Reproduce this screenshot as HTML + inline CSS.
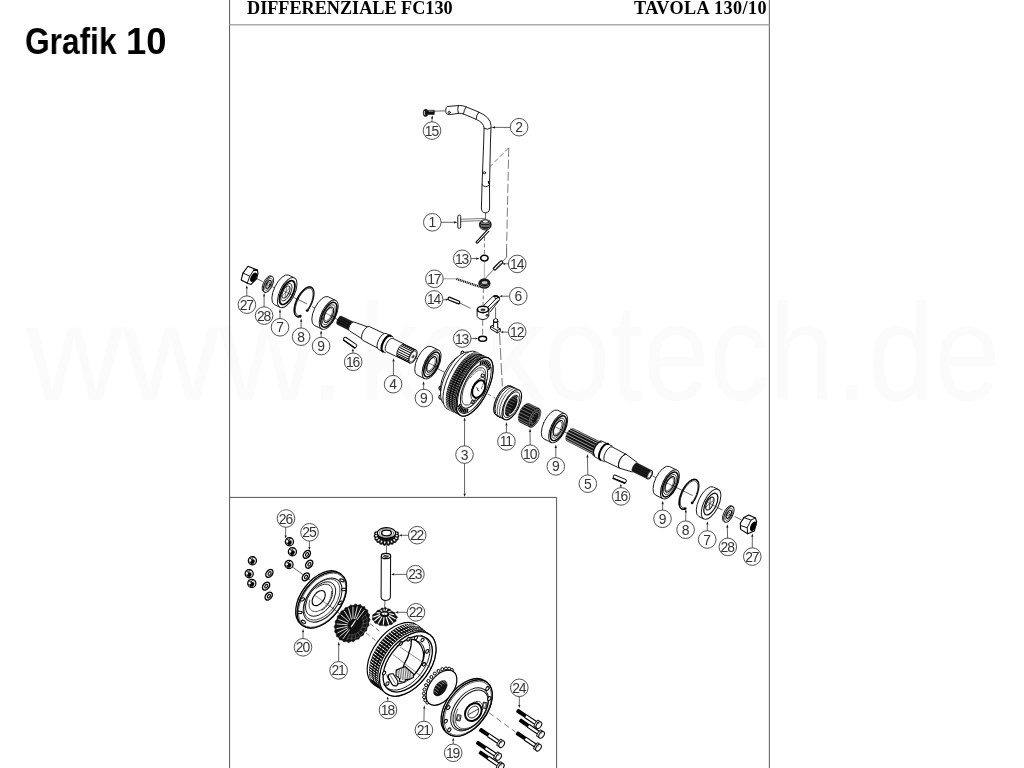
<!DOCTYPE html>
<html><head><meta charset="utf-8"><title>Grafik 10</title>
<style>
html,body{margin:0;padding:0;background:#fff;}
body{width:1024px;height:768px;overflow:hidden;position:relative;font-family:"Liberation Sans",sans-serif;}
.tt{position:absolute;top:22.1px;font:bold 36.4px "Liberation Sans",sans-serif;color:#000;transform-origin:0 0;white-space:nowrap;line-height:40px;will-change:transform;}
.wm{position:absolute;top:272.2px;font:138px "Liberation Sans",sans-serif;color:#fbfbfb;white-space:nowrap;line-height:160px;transform-origin:0 0;}
.hd{position:absolute;top:-2px;font:bold 18.2px "Liberation Serif",serif;color:#000;white-space:nowrap;line-height:20px;}
svg{position:absolute;left:0;top:0;will-change:transform;}
.hd{will-change:transform;}
.co{fill:none;stroke:#333;stroke-width:0.85;}
.ct{font:13.9px "Liberation Sans",sans-serif;fill:#333;text-anchor:middle;}
.l{fill:none;stroke:#111;stroke-width:0.95;stroke-linecap:round;stroke-linejoin:round;}
.lt{fill:none;stroke:#222;stroke-width:0.55;stroke-linecap:round;stroke-linejoin:round;}
.lw{fill:#fff;stroke:#111;stroke-width:0.95;stroke-linejoin:round;}
.lb{fill:none;stroke:#000;stroke-width:1.3;stroke-linecap:round;stroke-linejoin:round;}
.k{fill:#111;stroke:#111;stroke-width:0.5;}
.g{fill:#555;stroke:#111;stroke-width:0.6;}
.ld{fill:none;stroke:#222;stroke-width:0.7;}
.da{fill:none;stroke:#444;stroke-width:0.7;stroke-dasharray:5 2.5;}
</style></head><body>
<div class="wm" style="left:26px;transform:scaleX(0.97)">www.</div><div class="wm" style="left:358.5px;transform:scaleX(0.862)">kokotech.de</div>
<div class="tt" style="left:25.1px;transform:scaleX(0.87)">Grafik</div><div class="tt" style="left:126px;transform:scaleX(0.995)">10</div>
<div class="hd" style="left:246.5px">DIFFERENZIALE FC130</div>
<div class="hd" style="left:634px;letter-spacing:0.4px">TAVOLA 130/10</div>
<svg width="1024" height="768" viewBox="0 0 1024 768">
<line x1="229.6" y1="0" x2="229.6" y2="768" stroke="#555" stroke-width="1"/>
<line x1="769.4" y1="0" x2="769.4" y2="768" stroke="#777" stroke-width="1.2"/>
<line x1="229.6" y1="24.7" x2="769.4" y2="24.7" stroke="#aaa" stroke-width="1.5"/>
<path d="M229.6 497.4H556.6V768" fill="none" stroke="#555" stroke-width="1"/>
<path d="M508.75 147.8L490 166.6" class="da" style=""/>
<path d="M508.75 147.8L506.6 247" class="da" style="stroke-dasharray:9 3;"/>
<path d="M506.6 247.2L506.6 257.3L502.1 261.6" class="ld" style=""/>
<path d="M493.1 270.2L484.9 278.8" class="ld" style=""/>
<path d="M484.5 237L484.4 254.5" class="da" style="stroke-dasharray:4 2.5;"/>
<path d="M484.4 261.6L484.3 278" class="ld" style="stroke:#888;"/>
<path d="M483.4 289L483.1 305.5" class="da" style="stroke-dasharray:4 2.5;"/>
<path d="M482.7 319.8L482.6 335.6" class="da" style="stroke-dasharray:6 3;"/>
<path d="M434.8 111.2L445.6 110.8" class="ld" style=""/>
<path d="M447.3 106.5L459.1 105.5Q462.5 105.4 465.3 106.5L478.6 112Q490.5 117 491.1 125.7L490.5 140L489.5 186L489.6 208Q489.4 212.8 485.5 212.8Q481.6 212.8 481.4 208L482 186L483.75 140L484.1 128Q483.8 122.8 476.25 119.4L463.75 114.1Q461.5 113.2 459.1 113.3L449.7 114.6Q445.6 114.6 445.7 110.6Q445.8 106.8 447.3 106.5Z" class="lw" style="stroke-width:0.95;"/>
<path d="M458.3 105.6Q457 109.5 458.4 113.3M466.1 106.9Q464 110 463.4 114M478.6 112.2Q476.3 115.5 476.1 119.3M484.1 128.4Q487.5 130.4 491 127.9M482 184.6Q485.5 189 489.5 184.8" class="l" style=""/>
<circle cx="449.3" cy="112.4" r="1.1" class="l"/>
<circle cx="484.5" cy="172.8" r="1.1" class="l"/>
<path d="M488.4 181.6L489 183.6" class="lb" style=""/>
<path d="M423.2 112.9Q423.2 109.3 425.4 109.3Q427.6 109.3 427.9 110.4L434.3 110.2Q435 112.3 434.3 114.4L427.9 114.6Q427.6 116.5 425.4 116.5Q423.2 116.5 423.2 112.9Z" class="k" style=""/>
<path d="M424.6 111.2Q424 113 424.8 114.8" class="l" style="stroke:#fff;stroke-width:0.7;"/>
<path d="M429 111.3L433 111.2" class="l" style="stroke:#fff;stroke-width:0.5;"/>
<path d="M431.9 121.9L432.1 118.59" class="ld"/>
<path d="M432.3 115.2L433.2 118.66L431 118.53Z" fill="#111"/>
<path d="M510.4 127.4L495 127.4" class="ld"/>
<path d="M491.6 127.4L495 126.3L495 128.5Z" fill="#111"/>
<path d="M485.5 212.8L485.5 219.4" class="ld" style=""/>
<rect x="457.8" y="215.1" width="2.9" height="13.3" rx="1.4" class="lw"/>
<path d="M460.7 219.3L484.5 218.4M460.7 221.4L480 220.7" class="l" style="stroke-width:0.7;stroke:#444;"/>
<path d="M441 222.3L454 222.3" class="ld"/>
<path d="M457.4 222.3L454 223.4L454 221.2Z" fill="#111"/>
<ellipse cx="485.3" cy="224.7" rx="6.4" ry="5.8" fill="#1a1a1a"/>
<ellipse cx="485.3" cy="221.8" rx="4.6" ry="1.9" fill="none" stroke="#bbb" stroke-width="0.55"/>
<ellipse cx="485.3" cy="224.6" rx="4.6" ry="1.9" fill="none" stroke="#bbb" stroke-width="0.55"/>
<ellipse cx="485.3" cy="227.4" rx="4.6" ry="1.9" fill="none" stroke="#bbb" stroke-width="0.55"/>
<ellipse cx="485.3" cy="221.6" rx="2.6" ry="1" fill="#fff"/>
<path d="M487.6 229.6L476.2 241.8Q476 243.4 477.6 243.2L489.2 231.0" class="lw" style="stroke-width:1.05;stroke:#000;"/>
<ellipse cx="484.4" cy="258.1" rx="3.7" ry="2.9" fill="#fff" stroke="#000" stroke-width="1.6"/>
<path d="M470.9 258.6L476.2 258.6" class="ld"/>
<path d="M479.6 258.6L476.2 259.7L476.2 257.5Z" fill="#111"/>
<rect x="0" y="-1.35" width="11.81" height="2.7" rx="1.23" transform="translate(502.3 261.3) rotate(135.34)" class="lw" style="stroke-width:1.15;stroke:#000"/>
<path d="M500.9 263.7L495.9 268.6" class="lt" style=""/>
<path d="M508.6 263.8L504.9 263.8" class="ld"/>
<path d="M502.3 263.8L504.9 262.7L504.9 264.9Z" fill="#111"/>
<path d="M443.1 278.8L456.4 278.8" class="ld" style="stroke:#777;"/>
<path d="M456.4 278.9L480 286.8" class="l" style="stroke:#111;stroke-width:2.3;stroke-dasharray:1.1 0.7;stroke-linecap:butt;"/>
<ellipse cx="484.4" cy="283.5" rx="6.1" ry="5.2" fill="#1a1a1a"/>
<ellipse cx="484.6" cy="282.6" rx="3" ry="1.3" fill="#ccc"/>
<ellipse cx="484.4" cy="285.3" rx="4.2" ry="1.6" fill="none" stroke="#bbb" stroke-width="0.5"/>
<rect x="0" y="-1.45" width="12.29" height="2.9" rx="1.32" transform="translate(448.2 298.2) rotate(21.97)" class="lw" style="stroke-width:1.15;stroke:#000"/>
<path d="M450 300.4L457.8 303.5" class="lt" style=""/>
<path d="M459.6 302.9L470.5 308.3" class="ld" style=""/>
<path d="M443.1 299.9L445.81 299.64" class="ld"/>
<path d="M448.4 299.4L445.91 300.74L445.71 298.55Z" fill="#111"/>
<path d="M483.6 305.6L492.6 296.6Q494.6 294.9 497.4 295.6Q500.2 296.6 499.6 299.8L490 312.2" class="lw" style="stroke-width:1;"/>
<path d="M487.4 307.6L496.6 298.3M489.4 309.4L498.4 300.4" class="l" style="stroke-width:1.0;"/>
<path d="M493.4 296.4Q496.4 295.6 499 297.6" class="lb" style=""/>
<ellipse cx="496.3" cy="297.6" rx="1.6" ry="1" class="l"/>
<path d="M477.1 309.6L477.2 316.6Q478.6 319.6 483 319.6Q487.6 319.4 488.8 316.2L488.8 309.4Z" class="lw" style=""/>
<ellipse cx="483" cy="309.4" rx="5.6" ry="3.2" fill="#fff" stroke="#000" stroke-width="1.6"/>
<ellipse cx="483" cy="309.8" rx="2.6" ry="1.3" fill="#333"/>
<circle cx="487" cy="315.3" r="1" class="l"/>
<path d="M509.1 296.2L502.2 296.2" class="ld"/>
<path d="M499.6 296.2L502.2 295.1L502.2 297.3Z" fill="#111"/>
<path d="M495.6 307.4L495.6 318" class="ld" style=""/>
<path d="M499.5 333L502.4 386.5" class="da" style="stroke-dasharray:12 3;"/>
<path d="M490.5 326.4L490.5 328.8L497.2 332.9L500.3 331.4L500.3 329L493.8 325Z" class="lw" style="stroke-width:1;"/>
<path d="M490.5 326.4L497.2 330.4L500.3 329M497.2 330.4L497.2 332.9" class="l" style=""/>
<path d="M493.6 327.2L493.6 319.6Q495.6 317.6 497.7 319.6L497.7 328.4" class="lw" style="stroke-width:1;"/>
<path d="M493.6 321.6Q495.6 323.2 497.7 321.6" class="lb" style=""/>
<path d="M508.6 332.1L503.2 332.1" class="ld"/>
<path d="M500.6 332.1L503.2 331L503.2 333.2Z" fill="#111"/>
<ellipse cx="482.6" cy="338.7" rx="4" ry="2.5" fill="#fff" stroke="#000" stroke-width="1.5"/>
<path d="M470.9 338.5L475.4 338.5" class="ld"/>
<path d="M478 338.5L475.4 339.6L475.4 337.4Z" fill="#111"/>
<path d="M257 278.7L262.6 281.5" class="ld" style=""/>
<path d="M272.4 286.8L275.5 288.3" class="ld" style=""/>
<path d="M293.5 297.3L306.8 303.8" class="ld" style=""/>
<path d="M312 306.6L318 309.6" class="ld" style=""/>
<path d="M334 317.6L338.5 320" class="ld" style=""/>
<path d="M416 358L422 361" class="ld" style=""/>
<path d="M437 368.5L446 373" class="ld" style=""/>
<path d="M247.95 266.3L257.3 270.1L258 273.1L256.6 278.75L251 284.4L247.25 283.2L241.2 279.9L243 273.1Z" class="lw" style="stroke-width:1.1;stroke:#000;"/>
<path d="M243 273.1L249.8 276.2L247.25 283.2M249.8 276.2L253.8 270.1" class="l" style="stroke-width:1;"/>
<ellipse rx="2.7" ry="5.1" transform="translate(253.6 277.3) rotate(28)" fill="#000"/>
<path d="M253.8 270.1L257.3 270.1" class="l" style="stroke-width:1.6;stroke:#000;"/>
<path d="M246.8 296L246.8 288.6" class="ld"/>
<path d="M246.8 285.2L247.9 288.6L245.7 288.6Z" fill="#111"/>
<path d="M272.31 276.58L271.15 276.01A3.91 8.7 26 0 0 263.52 291.65L264.69 292.22" class="lw"/>
<ellipse rx="3.91" ry="8.7" transform="translate(268.5 284.4) rotate(26)" class="lw" style=""/>
<ellipse rx="2.98" ry="6.61" transform="translate(268.5 284.4) rotate(26)" class="l" style="stroke-width:0.6;"/>
<ellipse rx="1.96" ry="4.35" transform="translate(268.5 284.4) rotate(26)" class="l" style="stroke-width:1.1;stroke:#000;"/>
<ellipse rx="0.94" ry="2.09" transform="translate(268.5 284.4) rotate(26)" class="l" style="stroke-width:0.6;"/>
<path d="M264.1 306.9L264.1 296.6" class="ld"/>
<path d="M264.1 293.2L265.2 296.6L263 296.6Z" fill="#111"/>
<path d="M294.39 277.86L288.82 275.14A7.38 16.4 26 0 0 274.44 304.62L280.01 307.34" class="lw"/>
<ellipse rx="7.38" ry="16.4" transform="translate(287.2 292.6) rotate(26)" class="lw" style=""/>
<ellipse rx="5.83" ry="12.96" transform="translate(287.2 292.6) rotate(26)" class="l" style="stroke-width:1.8;stroke:#000;"/>
<ellipse rx="4.28" ry="9.51" transform="translate(286.39 292.21) rotate(26)" class="l" style="stroke-width:0.8;"/>
<ellipse rx="2.95" ry="6.56" transform="translate(285.94 291.99) rotate(26)" class="l" style="stroke-width:0.9;"/>
<path d="M285.11 297.56L286.78 286.41" class="lt" style=""/>
<path d="M289.76 287.53L282.12 296.45" class="lt" style=""/>
<path d="M280.5 289.3L293.7 295.8" class="lt" style=""/>
<path d="M280 318.6L280 312.4" class="ld"/>
<path d="M280 309L281.1 312.4L278.9 312.4Z" fill="#111"/>
<path d="M307.34 310.95L308.18 309.79L308.98 308.57L309.75 307.29L310.47 305.97L311.13 304.61L311.74 303.23L312.28 301.84L312.75 300.45L313.15 299.08L313.48 297.73L313.72 296.41L313.89 295.14L313.97 293.94L313.97 292.79L313.89 291.73L313.72 290.76L313.48 289.88L313.15 289.1L312.75 288.44L312.27 287.88L311.73 287.45L311.13 287.14L310.46 286.96L309.74 286.91L308.98 286.98L308.17 287.19L307.33 287.51L306.46 287.96L305.58 288.53L304.68 289.22L303.78 290.01L302.88 290.91L301.99 291.9L301.12 292.97L300.28 294.12L299.47 295.34L298.7 296.62L297.98 297.94L297.31 299.29L296.7 300.67L296.16 302.06L295.68 303.45L295.27 304.83L294.94 306.18L294.69 307.5L294.52 308.77L294.43 309.98L294.43 311.13L294.5 312.2L294.66 313.18L294.9 314.06L295.22 314.85L295.62 315.52L296.09 316.08L296.63 316.52L297.23 316.84L297.89 317.03L298.61 317.09L299.37 317.03L300.17 316.83" class="l" style="stroke-width:1.2;stroke:#000;"/>
<path d="M308.02 308.73L308.71 307.65L309.36 306.54L309.98 305.38L310.55 304.2L311.06 303.01L311.53 301.8L311.94 300.6L312.29 299.41L312.57 298.24L312.79 297.1L312.95 295.99L313.03 294.94L313.05 293.93L313 292.99L312.88 292.12L312.69 291.33L312.44 290.62L312.12 290L311.74 289.47L311.3 289.04L310.81 288.71L310.26 288.49L309.67 288.36L309.04 288.35L308.37 288.44L307.66 288.64L306.93 288.94L306.18 289.34L305.41 289.84L304.63 290.43L303.85 291.12L303.07 291.89L302.31 292.74L301.55 293.66L300.82 294.64L300.11 295.68L299.43 296.77L298.8 297.91L298.2 299.07L297.65 300.26L297.15 301.46L296.71 302.66L296.32 303.86L295.99 305.04L295.73 306.21L295.54 307.33L295.41 308.42L295.35 309.46L295.36 310.44L295.44 311.35L295.59 312.19L295.8 312.95L296.08 313.63L296.42 314.21L296.82 314.7L297.28 315.1L297.8 315.39L298.36 315.57L298.97 315.65L299.62 315.63" class="l" style="stroke-width:0.8;stroke:#000;"/>
<path d="M312.32 288.87L311.91 288.22L311.42 287.69L310.85 287.28L310.23 287L309.54 286.85L308.8 286.84L308.02 286.95L307.2 287.2L306.34 287.57L305.46 288.07L304.56 288.69L303.66 289.43L302.75 290.28L301.85 291.22L300.96 292.26L300.1 293.39L299.27 294.58L298.48 295.84L297.73 297.15L297.04 298.51L296.4 299.89L295.83 301.28L295.32 302.68L294.89 304.08L294.53 305.45L294.26 306.78L294.07 308.07L293.96 309.31L293.94 310.48L294 311.57L294.15 312.57L294.38 313.47L294.69 314.27L295.09 314.96L295.55 315.54L296.09 315.98L296.7 316.31L297.36 316.5L298.09 316.56L298.85 316.49" class="l" style="stroke-width:0.9;stroke:#000;"/>
<circle cx="300.38" cy="316.09" r="1.35" fill="#111"/>
<circle cx="307.18" cy="310.5" r="1.35" fill="#111"/>
<path d="M301.1 328L301.1 321.8" class="ld"/>
<path d="M301.1 318.4L302.2 321.8L300 321.8Z" fill="#111"/>
<path d="M335.67 300.41L328.21 296.77A7.16 15.9 26 0 0 314.27 325.35L321.73 328.99" class="lw"/>
<ellipse rx="7.16" ry="15.9" transform="translate(328.7 314.7) rotate(26)" class="lw" style=""/>
<ellipse rx="6.08" ry="13.52" transform="translate(328.88 314.79) rotate(26)" class="l" style="stroke-width:1.5;stroke:#000;"/>
<ellipse rx="4.94" ry="10.97" transform="translate(328.79 314.74) rotate(26)" class="l" style="stroke-width:0.7;"/>
<ellipse rx="3.79" ry="8.43" transform="translate(328.7 314.7) rotate(26)" class="l" style="stroke-width:1.05;stroke:#000;"/>
<ellipse rx="3.15" ry="7" transform="translate(328.25 314.48) rotate(26)" class="l" style="stroke-width:0.5;"/>
<path d="M322 311.4L335 317.8" class="lt" style=""/>
<path d="M321.1 337.4L321.1 333.7" class="ld"/>
<path d="M321.1 330.3L322.2 333.7L320 333.7Z" fill="#111"/>
<rect x="0" y="-1.7" width="15.23" height="3.4" rx="1.55" transform="translate(343.9 338) rotate(34.84)" class="lw"/>
<path d="M343.6 340.2L354.8 348.2" class="lb" style=""/>
<path d="M353 353.1L352.92 351.2" class="ld"/>
<path d="M352.8 348.6L354.01 351.15L351.82 351.25Z" fill="#111"/>
<path d="M353.78 322.19L341.53 316.27A2.07 4.6 26.2 0 0 337.47 324.53L349.63 330.62" class="k"/>
<path d="M369.06 327.37L353.87 322.01A2.21 4.9 26.2 0 0 349.54 330.8L363.06 339.57" class="lw"/>
<path d="M385.74 334.24L369.41 326.65A3.42 7.6 26.2 0 0 362.7 340.29L378.68 348.59" class="lw"/>
<path d="M393.45 337.14L386.09 333.52A3.96 8.8 26.2 0 0 378.32 349.31L385.68 352.93" class="lw"/>
<path d="M404.27 344.14L392.83 338.4A3.33 7.4 26.2 0 0 386.3 351.68L397.83 357.24" class="lw"/>
<path d="M416.07 350.05L404.23 344.23A3.24 7.2 26.2 0 0 397.87 357.15L409.72 362.98" class="lw"/>
<path d="M348.95 329.01L336.75 323.01M349.32 326.79L337.11 320.78M350.45 324.44L338.24 318.43M351.98 322.72L339.78 316.71" class="l" style="stroke:#444;stroke-width:0.3;"/>
<path d="M390.54 335.82A3.91 8.7 26.2 0 0 382.85 351.43" class="l" style="stroke-width:2.2;stroke:#000;"/>
<path d="M408.98 362.24L397.68 356.67M408.62 360.92L397.31 355.35M408.67 359.16L397.37 353.6M409.15 357.14L397.85 351.58M410 355.06L398.7 349.49M411.14 353.12L399.83 347.56M412.45 351.52L401.15 345.96M413.81 350.42L402.5 344.85M415.07 349.92L403.77 344.36" class="l" style="stroke-width:1.0;stroke:#000;"/>
<ellipse rx="3.24" ry="7.2" transform="translate(412.9 356.52) rotate(26.2)" class="lw" style=""/>
<ellipse rx="2.66" ry="5.9" transform="translate(412.9 356.52) rotate(26.2)" class="l" style="stroke-width:0.6;"/>
<ellipse rx="0.68" ry="1.5" transform="translate(412.99 356.56) rotate(26.2)" class="l" style="stroke-width:0.8;"/>
<path d="M393.4 375.5L393.48 361.6" class="ld"/>
<path d="M393.5 358.2L394.58 361.61L392.38 361.59Z" fill="#111"/>
<path d="M438.57 350.11L431.11 346.47A7.16 15.9 26 0 0 417.17 375.05L424.63 378.69" class="lw"/>
<ellipse rx="7.16" ry="15.9" transform="translate(431.6 364.4) rotate(26)" class="lw" style=""/>
<ellipse rx="6.08" ry="13.52" transform="translate(431.78 364.49) rotate(26)" class="l" style="stroke-width:1.5;stroke:#000;"/>
<ellipse rx="4.94" ry="10.97" transform="translate(431.69 364.44) rotate(26)" class="l" style="stroke-width:0.7;"/>
<ellipse rx="3.79" ry="8.43" transform="translate(431.6 364.4) rotate(26)" class="l" style="stroke-width:1.05;stroke:#000;"/>
<ellipse rx="3.15" ry="7" transform="translate(431.15 364.18) rotate(26)" class="l" style="stroke-width:0.5;"/>
<path d="M425 361.2L438 367.6" class="lt" style=""/>
<path d="M423.7 389.4L423.58 384.6" class="ld"/>
<path d="M423.5 381.2L424.68 384.57L422.48 384.63Z" fill="#111"/>
<path d="M487.5 393.8L495.5 398.4" class="da" style="stroke-dasharray:4 3;"/>
<path d="M520.5 409.5L524 411.3" class="ld" style=""/>
<path d="M543 422.5L547 424.5" class="ld" style=""/>
<path d="M564 431.6L568 433.6" class="ld" style=""/>
<path d="M652.6 476L659 479.2" class="ld" style=""/>
<path d="M676.5 487.6L692.7 495.6" class="ld" style=""/>
<path d="M699.4 498.6L705 501.4" class="ld" style=""/>
<path d="M718 507.8L722.6 510.1" class="ld" style=""/>
<path d="M734.6 516.4L741.5 519.9" class="ld" style=""/>
<ellipse cx="440.47" cy="397.1" rx="1.6" ry="2.1" class="lw" style="stroke-width:1.1;stroke:#000"/>
<ellipse cx="440.57" cy="388.07" rx="1.6" ry="2.1" class="lw" style="stroke-width:1.1;stroke:#000"/>
<ellipse cx="462.57" cy="353.17" rx="1.6" ry="2.1" class="lw" style="stroke-width:1.1;stroke:#000"/>
<path d="M466.72 358.48L462.67 356.51A9.24 22 26 0 0 443.38 396.05L447.43 398.03" class="lw"/>
<ellipse rx="9.24" ry="22" transform="translate(457.07 378.25) rotate(26)" class="lw" style=""/>
<path d="M473.88 354.52L469.65 352.46A12.05 28.7 26 0 0 444.49 404.05L448.72 406.11" class="lw"/>
<ellipse rx="12.05" ry="28.7" transform="translate(461.3 380.31) rotate(26)" class="lw" style=""/>
<path d="M478.7 353.31L475.28 351.64A13.4 31.9 26 0 0 447.31 408.98L450.73 410.65" class="lw"/>
<ellipse rx="13.4" ry="31.9" transform="translate(464.71 381.98) rotate(26)" class="lw" style=""/>
<path d="M487.15 357.43L478.7 353.31A13.4 31.9 26 0 0 450.73 410.65L459.18 414.77" class="k"/>
<path d="M458.17 414.14L449.73 410.02M457.4 413.43L448.95 409.31M456.72 412.55L448.27 408.43M456.13 411.53L447.68 407.4M455.64 410.35L447.19 406.23M455.25 409.04L446.8 404.92M454.96 407.59L446.52 403.47M454.78 406.02L446.34 401.9M454.71 404.34L446.26 400.22M454.74 402.55L446.29 398.42M454.88 400.66L446.43 396.54M455.12 398.69L446.68 394.57M455.47 396.65L447.02 392.53M455.92 394.54L447.48 390.42M456.47 392.39L448.03 388.27M457.12 390.2L448.67 386.08M457.86 387.99L449.41 383.87M458.69 385.77L450.24 381.65M459.6 383.55L451.15 379.43M460.59 381.34L452.14 377.22M461.65 379.16L453.2 375.04M462.78 377.02L454.33 372.9M463.96 374.94L455.52 370.82M465.21 372.92L456.76 368.79M466.49 370.97L458.04 366.85M467.82 369.11L459.37 364.99M469.18 367.35L460.73 363.23M470.56 365.7L462.11 361.58M471.95 364.16L463.5 360.04M473.35 362.76L464.9 358.64M474.75 361.48L466.3 357.36M476.14 360.35L467.7 356.23M477.52 359.37L469.07 355.25M478.87 358.54L470.42 354.42M480.18 357.87L471.73 353.75M481.46 357.37L473.01 353.25M482.69 357.03L474.24 352.91M483.86 356.85L475.41 352.73M484.97 356.85L476.52 352.73M486.01 357.02L477.56 352.9" class="l" style="stroke:#fff;stroke-width:0.5;"/>
<path d="M484.27 356.02A13.4 31.9 26 0 0 456.3 413.37" class="l" style="stroke:#000;stroke-width:1.0;"/>
<path d="M481.39 354.62A13.4 31.9 26 0 0 453.43 411.96" class="l" style="stroke:#000;stroke-width:1.0;"/>
<path d="M488.58 358.13L487.15 357.43A13.4 31.9 26 0 0 459.18 414.77L460.62 415.47" class="lw"/>
<ellipse rx="13.4" ry="31.9" transform="translate(474.6 386.8) rotate(26)" class="lw" style=""/>
<ellipse rx="13.4" ry="31.9" transform="translate(474.6 386.8) rotate(26)" class="lw" style="stroke-width:1.25;stroke:#000;"/>
<ellipse rx="12.26" ry="29.2" transform="translate(474.33 386.67) rotate(26)" class="l" style="stroke-width:0.9;"/>
<ellipse rx="9.91" ry="23.6" transform="translate(474.06 386.54) rotate(26)" class="l" style="stroke-width:1.0;"/>
<ellipse rx="8.65" ry="20.6" transform="translate(473.79 386.41) rotate(26)" class="l" style="stroke-width:0.7;"/>
<path d="M488.2 369.92L490.59 367.04" class="l" style="stroke:#000;stroke-width:1.5;stroke-linecap:butt;"/>
<path d="M487.6 367.77L489.89 364.52" class="l" style="stroke:#000;stroke-width:1.5;stroke-linecap:butt;"/>
<path d="M486.67 366.1L488.79 362.56" class="l" style="stroke:#000;stroke-width:1.5;stroke-linecap:butt;"/>
<path d="M485.42 364.95L487.33 361.22" class="l" style="stroke:#000;stroke-width:1.5;stroke-linecap:butt;"/>
<path d="M483.88 364.36L485.53 360.53" class="l" style="stroke:#000;stroke-width:1.5;stroke-linecap:butt;"/>
<path d="M482.11 364.34L483.45 360.5" class="l" style="stroke:#000;stroke-width:1.5;stroke-linecap:butt;"/>
<path d="M480.13 364.89L481.13 361.15" class="l" style="stroke:#000;stroke-width:1.5;stroke-linecap:butt;"/>
<path d="M460.56 403.92L458.19 406.89" class="l" style="stroke:#000;stroke-width:1.5;stroke-linecap:butt;"/>
<path d="M461.16 405.81L458.89 409.1" class="l" style="stroke:#000;stroke-width:1.5;stroke-linecap:butt;"/>
<path d="M462.03 407.29L459.92 410.84" class="l" style="stroke:#000;stroke-width:1.5;stroke-linecap:butt;"/>
<path d="M463.17 408.33L461.25 412.06" class="l" style="stroke:#000;stroke-width:1.5;stroke-linecap:butt;"/>
<path d="M464.54 408.92L462.85 412.75" class="l" style="stroke:#000;stroke-width:1.5;stroke-linecap:butt;"/>
<path d="M466.11 409.04L464.7 412.89" class="l" style="stroke:#000;stroke-width:1.5;stroke-linecap:butt;"/>
<path d="M467.86 408.69L466.75 412.47" class="l" style="stroke:#000;stroke-width:1.5;stroke-linecap:butt;"/>
<ellipse rx="6.3" ry="12.6" transform="translate(478.7 389) rotate(26)" class="l" style="stroke-width:0.7;"/>
<ellipse rx="5.77" ry="9.3" transform="translate(478.7 389) rotate(26)" class="lw" style="stroke-width:2.0;stroke:#000;"/>
<path d="M476.5 387.8l1.6 .8l-.8 1.4l1.8 .9" class="l" style="stroke-width:0.8;"/>
<rect x="481.6" y="374.3" width="2.6" height="2.6" transform="rotate(20 482.9 375.6)" class="l" style="stroke-width:0.9"/>
<rect x="471.6" y="400.9" width="2.6" height="2.6" transform="rotate(20 472.9 402.2)" class="l" style="stroke-width:0.9"/>
<path d="M481.52 388.43L482.29 386.57L482.95 384.71L483.51 382.88L483.94 381.09L484.25 379.37L484.43 377.74L484.47 376.23L484.39 374.84L484.17 373.6L483.83 372.53L483.36 371.64L482.77 370.93L482.07 370.42L481.27 370.12L480.38 370.02L479.41 370.14L478.37 370.46L477.28 370.99L476.15 371.71L474.99 372.62L473.81 373.71L472.64 374.96L471.49 376.36L470.37 377.89" class="l" style="stroke-width:0.7;stroke-dasharray:2.5 1.5;"/>
<path d="M464.5 446L464.59 420.8" class="ld"/>
<path d="M464.6 417.4L465.69 420.8L463.49 420.8Z" fill="#111"/>
<path d="M464.5 463.4L464.59 493.8" class="ld"/>
<path d="M464.6 496.8L463.49 493.8L465.69 493.8Z" fill="#111"/>
<path d="M514.32 387.78L510.54 385.94A7.38 16.4 26 0 0 496.16 415.42L499.94 417.26" class="lw"/>
<ellipse rx="7.38" ry="16.4" transform="translate(507.13 402.52) rotate(26)" class="lw" style=""/>
<path d="M518.99 390.06L510.9 386.11A7.38 16.4 26 0 0 496.52 415.59L504.61 419.54" class="lw"/>
<path d="M516.29 388.74A7.38 16.4 26 0 0 501.91 418.23" class="l" style="stroke-width:0.7;"/>
<path d="M513.96 387.6A7.38 16.4 26 0 0 499.58 417.09" class="l" style="stroke-width:0.7;"/>
<path d="M511.89 386.6A7.38 16.4 26 0 0 497.51 416.08" class="l" style="stroke-width:0.9;stroke:#000;"/>
<ellipse rx="7.38" ry="16.4" transform="translate(511.8 404.8) rotate(26)" class="lw" style="stroke-width:1.1;stroke:#000;"/>
<ellipse rx="6.35" ry="14.1" transform="translate(511.62 404.71) rotate(26)" class="l" style="stroke-width:0.8;"/>
<ellipse rx="5.17" ry="11.48" transform="translate(512.08 405.6) rotate(26)" class="k" style=""/>
<path d="M515.04 395.73L519.71 398.01M513.23 396.55L517.9 398.83M511.32 398.16L516 400.44M509.48 400.42L514.16 402.7M507.87 403.13L512.54 405.41M506.62 406.06L511.29 408.34M505.85 408.95L510.52 411.23M505.62 411.54L510.3 413.82" class="l" style="stroke:#bbb;stroke-width:0.45;"/>
<path d="M509.29 414.88L509.86 414.7L510.44 414.43L511.04 414.07L511.66 413.63L512.27 413.1L512.89 412.49L513.5 411.81L514.09 411.06L514.66 410.26L515.2 409.41L515.71 408.53L516.19 407.61L516.62 406.67L517.01 405.72L517.34 404.77L517.62 403.82L517.84 402.9L518 402L518.1 401.14L518.14 400.33L518.12 399.57L518.03 398.88L517.88 398.25L517.67 397.7" class="l" style="stroke:#fff;stroke-width:1.2;"/>
<path d="M506.4 432.7L506.47 425.6" class="ld"/>
<path d="M506.5 422.2L507.57 425.61L505.37 425.59Z" fill="#111"/>
<path d="M539.16 408.45L528.91 403.46A4.68 10.4 26 0 0 519.79 422.15L530.04 427.15" class="k"/>
<path d="M528.73 425.52L518.48 420.53M528.4 423.27L518.15 418.27M528.74 420.41L518.49 415.42M529.72 417.28L519.47 412.28M531.22 414.2L520.98 409.2M533.1 411.51L522.85 406.51M535.14 409.51L524.89 404.51M537.12 408.4L526.87 403.41" class="l" style="stroke:#fff;stroke-width:0.42;"/>
<ellipse rx="4.68" ry="10.4" transform="translate(534.6 417.8) rotate(26)" class="k" style=""/>
<ellipse rx="4.21" ry="9.36" transform="translate(534.6 417.8) rotate(26)" class="l" style="stroke:#ddd;stroke-width:0.4;"/>
<ellipse rx="2.9" ry="6.45" transform="translate(534.87 417.93) rotate(26)" class="l" style="stroke:#999;stroke-width:0.5;"/>
<path d="M536.48 410.33L539.54 411.82M534.8 411.35L537.86 412.84M533.09 413.15L536.15 414.64M531.57 415.51L534.62 417M530.41 418.15L533.46 419.64M529.75 420.74L532.81 422.24M529.68 422.98L532.74 424.47" class="l" style="stroke:#aaa;stroke-width:0.4;"/>
<path d="M530.2 445L530.04 432" class="ld"/>
<path d="M530 428.6L531.14 431.99L528.94 432.01Z" fill="#111"/>
<path d="M565.17 413.91L557.71 410.27A7.16 15.9 26 0 0 543.77 438.85L551.23 442.49" class="lw"/>
<ellipse rx="7.16" ry="15.9" transform="translate(558.2 428.2) rotate(26)" class="lw" style=""/>
<ellipse rx="6.08" ry="13.52" transform="translate(558.38 428.29) rotate(26)" class="l" style="stroke-width:1.5;stroke:#000;"/>
<ellipse rx="4.94" ry="10.97" transform="translate(558.29 428.24) rotate(26)" class="l" style="stroke-width:0.7;"/>
<ellipse rx="3.79" ry="8.43" transform="translate(558.2 428.2) rotate(26)" class="l" style="stroke-width:1.05;stroke:#000;"/>
<ellipse rx="3.15" ry="7" transform="translate(557.75 427.98) rotate(26)" class="l" style="stroke-width:0.5;"/>
<path d="M551.5 424.9L564.5 431.4" class="lt" style=""/>
<path d="M555.8 457.7L555.8 448" class="ld"/>
<path d="M555.8 444.6L556.9 448L554.7 448Z" fill="#111"/>
<path d="M601.13 442.27L572.85 428.39A3.11 6.9 26.7 0 0 566.65 440.71L594.66 455.14" class="k"/>
<path d="M612.57 446.23L601.76 441.02A3.87 8.6 26.7 0 0 594.03 456.39L604.66 461.96" class="lw"/>
<path d="M626.37 454.41L612.21 446.95A3.6 8 26.7 0 0 605.02 461.24L619.45 468.16" class="lw"/>
<path d="M637.35 462.62L626.37 454.41A3.47 7.7 26.7 0 0 619.45 468.16L632.58 472.09" class="lw"/>
<path d="M651.82 470.57L637.12 463.06A2.16 4.8 26.7 0 0 632.81 471.64L647.59 478.96" class="k"/>
<path d="M593.7 453.78L565.73 439.41M593.62 451.49L565.66 437.22M594.37 448.66L566.37 434.51M595.79 445.85L567.74 431.81M597.62 443.58L569.49 429.64M599.5 442.3L571.29 428.41" class="l" style="stroke:#fff;stroke-width:0.6;"/>
<path d="M601.22 442.09A3.33 7.4 26.7 0 0 594.57 455.31" class="l" style="stroke:#000;stroke-width:1.2;"/>
<path d="M608.1 443.99A3.96 8.8 26.7 0 0 600.19 459.71" class="l" style="stroke-width:2.0;stroke:#000;"/>
<path d="M626.37 454.41A3.47 7.7 26.7 0 0 619.45 468.16" class="l" style="stroke-width:0.9;"/>
<path d="M646.88 477.41L632.13 469.99M647.27 475.13L632.52 467.72M648.44 472.74L633.7 465.33M650.02 471L635.28 463.59" class="l" style="stroke:#444;stroke-width:0.3;"/>
<ellipse rx="2.07" ry="4.6" transform="translate(649.71 474.76) rotate(26.7)" class="lw" style="stroke-width:1;"/>
<ellipse rx="1.53" ry="3.4" transform="translate(649.71 474.76) rotate(26.7)" class="l" style="stroke-width:0.5;"/>
<path d="M587.8 475L587.46 457.4" class="ld"/>
<path d="M587.4 454L588.56 457.38L586.36 457.42Z" fill="#111"/>
<rect x="0" y="-1.7" width="13.89" height="3.4" rx="1.55" transform="translate(613.4 476.2) rotate(22.87)" class="lw"/>
<path d="M613 478.4L624.8 483.4" class="lb" style=""/>
<path d="M621 487.7L620.85 486.29" class="ld"/>
<path d="M620.6 483.9L621.95 486.17L619.76 486.4Z" fill="#111"/>
<path d="M676.87 470.11L669.41 466.47A7.16 15.9 26 0 0 655.47 495.05L662.93 498.69" class="lw"/>
<ellipse rx="7.16" ry="15.9" transform="translate(669.9 484.4) rotate(26)" class="lw" style=""/>
<ellipse rx="6.08" ry="13.52" transform="translate(670.08 484.49) rotate(26)" class="l" style="stroke-width:1.5;stroke:#000;"/>
<ellipse rx="4.94" ry="10.97" transform="translate(669.99 484.44) rotate(26)" class="l" style="stroke-width:0.7;"/>
<ellipse rx="3.79" ry="8.43" transform="translate(669.9 484.4) rotate(26)" class="l" style="stroke-width:1.05;stroke:#000;"/>
<ellipse rx="3.15" ry="7" transform="translate(669.45 484.18) rotate(26)" class="l" style="stroke-width:0.5;"/>
<path d="M663.2 481.1L676.4 487.6" class="lt" style=""/>
<path d="M662.6 510.1L662.66 504.2" class="ld"/>
<path d="M662.7 500.8L663.76 504.21L661.56 504.19Z" fill="#111"/>
<path d="M692.24 503.35L693.08 502.19L693.88 500.97L694.65 499.69L695.37 498.37L696.03 497.01L696.64 495.63L697.18 494.24L697.65 492.85L698.05 491.48L698.38 490.13L698.62 488.81L698.79 487.54L698.87 486.34L698.87 485.19L698.79 484.13L698.62 483.16L698.38 482.28L698.05 481.5L697.65 480.84L697.17 480.28L696.63 479.85L696.03 479.54L695.36 479.36L694.64 479.31L693.88 479.38L693.07 479.59L692.23 479.91L691.36 480.36L690.48 480.93L689.58 481.62L688.68 482.41L687.78 483.31L686.89 484.3L686.02 485.37L685.18 486.52L684.37 487.74L683.6 489.02L682.88 490.34L682.21 491.69L681.6 493.07L681.06 494.46L680.58 495.85L680.17 497.23L679.84 498.58L679.59 499.9L679.42 501.17L679.33 502.38L679.33 503.53L679.4 504.6L679.56 505.58L679.8 506.46L680.12 507.25L680.52 507.92L680.99 508.48L681.53 508.92L682.13 509.24L682.79 509.43L683.51 509.49L684.27 509.43L685.07 509.23" class="l" style="stroke-width:1.2;stroke:#000;"/>
<path d="M692.92 501.13L693.61 500.05L694.26 498.94L694.88 497.78L695.45 496.6L695.96 495.41L696.43 494.2L696.84 493L697.19 491.81L697.47 490.64L697.69 489.5L697.85 488.39L697.93 487.34L697.95 486.33L697.9 485.39L697.78 484.52L697.59 483.73L697.34 483.02L697.02 482.4L696.64 481.87L696.2 481.44L695.71 481.11L695.16 480.89L694.57 480.76L693.94 480.75L693.27 480.84L692.56 481.04L691.83 481.34L691.08 481.74L690.31 482.24L689.53 482.83L688.75 483.52L687.97 484.29L687.21 485.14L686.45 486.06L685.72 487.04L685.01 488.08L684.33 489.17L683.7 490.31L683.1 491.47L682.55 492.66L682.05 493.86L681.61 495.06L681.22 496.26L680.89 497.44L680.63 498.61L680.44 499.73L680.31 500.82L680.25 501.86L680.26 502.84L680.34 503.75L680.49 504.59L680.7 505.35L680.98 506.03L681.32 506.61L681.72 507.1L682.18 507.5L682.7 507.79L683.26 507.97L683.87 508.05L684.52 508.03" class="l" style="stroke-width:0.8;stroke:#000;"/>
<path d="M697.22 481.27L696.81 480.62L696.32 480.09L695.75 479.68L695.13 479.4L694.44 479.25L693.7 479.24L692.92 479.35L692.1 479.6L691.24 479.97L690.36 480.47L689.46 481.09L688.56 481.83L687.65 482.68L686.75 483.62L685.86 484.66L685 485.79L684.17 486.98L683.38 488.24L682.63 489.55L681.94 490.91L681.3 492.29L680.73 493.68L680.22 495.08L679.79 496.48L679.43 497.85L679.16 499.18L678.97 500.47L678.86 501.71L678.84 502.88L678.9 503.97L679.05 504.97L679.28 505.87L679.59 506.67L679.99 507.36L680.45 507.94L680.99 508.38L681.6 508.71L682.26 508.9L682.99 508.96L683.75 508.89" class="l" style="stroke-width:0.9;stroke:#000;"/>
<circle cx="685.28" cy="508.49" r="1.35" fill="#111"/>
<circle cx="692.08" cy="502.9" r="1.35" fill="#111"/>
<path d="M685.7 521L685.84 512.6" class="ld"/>
<path d="M685.9 509.2L686.94 512.62L684.74 512.58Z" fill="#111"/>
<path d="M718.29 489.46L713.26 487A7.38 16.4 26 0 0 698.88 516.49L703.91 518.94" class="lw"/>
<ellipse rx="7.38" ry="16.4" transform="translate(711.1 504.2) rotate(26)" class="lw" style=""/>
<ellipse rx="5.31" ry="11.81" transform="translate(710.83 504.07) rotate(26)" class="l" style="stroke-width:1.15;stroke:#000;"/>
<ellipse rx="3.17" ry="7.05" transform="translate(709.84 503.59) rotate(26)" class="l" style="stroke-width:1.0;"/>
<path d="M709.31 509.34L710.38 497.84" class="l" style="stroke-width:0.7;"/>
<path d="M714.04 499.63L705.64 507.55" class="l" style="stroke-width:0.7;"/>
<path d="M704.4 500.9L717.6 507.4" class="lt" style=""/>
<path d="M707.3 530.8L707.36 524.6" class="ld"/>
<path d="M707.4 521.2L708.46 524.61L706.26 524.59Z" fill="#111"/>
<path d="M732.71 506.48L731.55 505.91A3.91 8.7 26 0 0 723.92 521.55L725.09 522.12" class="lw"/>
<ellipse rx="3.91" ry="8.7" transform="translate(728.9 514.3) rotate(26)" class="lw" style=""/>
<ellipse rx="2.98" ry="6.61" transform="translate(728.9 514.3) rotate(26)" class="l" style="stroke-width:0.6;"/>
<ellipse rx="1.96" ry="4.35" transform="translate(728.9 514.3) rotate(26)" class="l" style="stroke-width:1.1;stroke:#000;"/>
<ellipse rx="0.94" ry="2.09" transform="translate(728.9 514.3) rotate(26)" class="l" style="stroke-width:0.6;"/>
<path d="M727.6 538.2L727.37 527.7" class="ld"/>
<path d="M727.3 524.3L728.47 527.68L726.27 527.72Z" fill="#111"/>
<path d="M748.8 514.9L755.4 517.9L756.7 521.7L754.3 531L747.7 533.7L740.6 529.35L740.3 523.3L743.9 517.6Z" class="lw" style="stroke-width:1.1;stroke:#000;"/>
<path d="M743.9 517.6L751 520.1L755.4 517.9M751 520.1L747.2 527.7L740.6 525.5M747.2 527.7L747.7 533.7" class="l" style="stroke-width:1;"/>
<ellipse rx="2.7" ry="5.2" transform="translate(753.2 526.3) rotate(25)" fill="#000"/>
<path d="M752.3 547.9L752.3 536.8" class="ld"/>
<path d="M752.3 533.4L753.4 536.8L751.2 536.8Z" fill="#111"/>
<path d="M292.1 566.8L310.4 580" class="ld" style=""/>
<circle cx="289.4" cy="541.7" r="4.1" fill="#ddd" stroke="#000" stroke-width="1.2"/>
<ellipse cx="290.1" cy="542.3" rx="2.0" ry="2.4" fill="#000" transform="rotate(35 289.4 541.7)"/>
<path d="M285.6 542.5L288.2 544.1L288.4 545.7M286.4 538.9L288.6 540.3L288.2 544.1M288.6 540.3L290.6 537.8" class="l" style="stroke-width:0.8;stroke:#000;"/>
<circle cx="287.5" cy="541.5" r="0.9" fill="#fff"/>
<circle cx="292.4" cy="551.8" r="4.1" fill="#ddd" stroke="#000" stroke-width="1.2"/>
<ellipse cx="293.1" cy="552.4" rx="2.0" ry="2.4" fill="#000" transform="rotate(35 292.4 551.8)"/>
<path d="M288.6 552.6L291.2 554.2L291.4 555.8M289.4 549L291.6 550.4L291.2 554.2M291.6 550.4L293.6 547.9" class="l" style="stroke-width:0.8;stroke:#000;"/>
<circle cx="290.5" cy="551.6" r="0.9" fill="#fff"/>
<circle cx="289" cy="564.5" r="4.1" fill="#ddd" stroke="#000" stroke-width="1.2"/>
<ellipse cx="289.7" cy="565.1" rx="2.0" ry="2.4" fill="#000" transform="rotate(35 289 564.5)"/>
<path d="M285.2 565.3L287.8 566.9L288 568.5M286 561.7L288.2 563.1L287.8 566.9M288.2 563.1L290.2 560.6" class="l" style="stroke-width:0.8;stroke:#000;"/>
<circle cx="287.1" cy="564.3" r="0.9" fill="#fff"/>
<circle cx="252.4" cy="560.7" r="4.1" fill="#ddd" stroke="#000" stroke-width="1.2"/>
<ellipse cx="253.1" cy="561.3" rx="2.0" ry="2.4" fill="#000" transform="rotate(35 252.4 560.7)"/>
<path d="M248.6 561.5L251.2 563.1L251.4 564.7M249.4 557.9L251.6 559.3L251.2 563.1M251.6 559.3L253.6 556.8" class="l" style="stroke-width:0.8;stroke:#000;"/>
<circle cx="250.5" cy="560.5" r="0.9" fill="#fff"/>
<circle cx="249.2" cy="573.7" r="4.1" fill="#ddd" stroke="#000" stroke-width="1.2"/>
<ellipse cx="249.9" cy="574.3" rx="2.0" ry="2.4" fill="#000" transform="rotate(35 249.2 573.7)"/>
<path d="M245.4 574.5L248 576.1L248.2 577.7M246.2 570.9L248.4 572.3L248 576.1M248.4 572.3L250.4 569.8" class="l" style="stroke-width:0.8;stroke:#000;"/>
<circle cx="247.3" cy="573.5" r="0.9" fill="#fff"/>
<circle cx="251.8" cy="583.4" r="4.1" fill="#ddd" stroke="#000" stroke-width="1.2"/>
<ellipse cx="252.5" cy="584" rx="2.0" ry="2.4" fill="#000" transform="rotate(35 251.8 583.4)"/>
<path d="M248 584.2L250.6 585.8L250.8 587.4M248.8 580.6L251 582L250.6 585.8M251 582L253 579.5" class="l" style="stroke-width:0.8;stroke:#000;"/>
<circle cx="249.9" cy="583.2" r="0.9" fill="#fff"/>
<ellipse rx="3.0" ry="4.4" transform="translate(306.8 554.4) rotate(37)" fill="#fff" stroke="#000" stroke-width="1.45"/>
<ellipse rx="1.2" ry="2.0" transform="translate(307 554.5) rotate(37)" fill="#fff" stroke="#000" stroke-width="1.1"/>
<ellipse rx="3.0" ry="4.4" transform="translate(309.2 564.2) rotate(37)" fill="#fff" stroke="#000" stroke-width="1.45"/>
<ellipse rx="1.2" ry="2.0" transform="translate(309.4 564.3) rotate(37)" fill="#fff" stroke="#000" stroke-width="1.1"/>
<ellipse rx="3.0" ry="4.4" transform="translate(305.8 576.9) rotate(37)" fill="#fff" stroke="#000" stroke-width="1.45"/>
<ellipse rx="1.2" ry="2.0" transform="translate(306 577) rotate(37)" fill="#fff" stroke="#000" stroke-width="1.1"/>
<ellipse rx="3.0" ry="4.4" transform="translate(269.4 573.4) rotate(37)" fill="#fff" stroke="#000" stroke-width="1.45"/>
<ellipse rx="1.2" ry="2.0" transform="translate(269.6 573.5) rotate(37)" fill="#fff" stroke="#000" stroke-width="1.1"/>
<ellipse rx="3.0" ry="4.4" transform="translate(266.1 586.1) rotate(37)" fill="#fff" stroke="#000" stroke-width="1.45"/>
<ellipse rx="1.2" ry="2.0" transform="translate(266.3 586.2) rotate(37)" fill="#fff" stroke="#000" stroke-width="1.1"/>
<ellipse rx="3.0" ry="4.4" transform="translate(268.7 596.1) rotate(37)" fill="#fff" stroke="#000" stroke-width="1.45"/>
<ellipse rx="1.2" ry="2.0" transform="translate(268.9 596.2) rotate(37)" fill="#fff" stroke="#000" stroke-width="1.1"/>
<path d="M285.7 527.3L285.63 535.6" class="ld"/>
<path d="M285.6 538.6L284.53 535.59L286.73 535.61Z" fill="#111"/>
<path d="M309.4 541.1L309.4 546.9" class="ld"/>
<path d="M309.4 549.9L308.3 546.9L310.5 546.9Z" fill="#111"/>
<path d="M341 614.6L344.6 617.2" class="ld" style=""/>
<path d="M370 623.7L381.8 633" class="da" style="stroke-dasharray:4.5 3;"/>
<path d="M366.1 633L375.9 640.8" class="da" style="stroke-dasharray:4.5 3;"/>
<path d="M433.6 682.2L437 684.6" class="ld" style=""/>
<path d="M454.3 686.5L457 688.8" class="ld" style=""/>
<path d="M444.9 692.1L450.6 696.2" class="ld" style=""/>
<path d="M488.8 712.6L515.8 732.2" class="da" style="stroke-dasharray:6 3.5;"/>
<path d="M341.16 574.44L339.56 573.24A19.2 32 37 0 0 301.04 624.35L302.64 625.56" class="lw" style="stroke-width:1.3;stroke:#000"/>
<ellipse rx="19.2" ry="32" transform="translate(321.9 600) rotate(37)" class="lw" style="stroke-width:1.3;stroke:#000" style=""/>
<ellipse rx="19.2" ry="32" transform="translate(321.9 600) rotate(37)" class="lw" style="stroke-width:1.2;stroke:#000;"/>
<ellipse rx="18.53" ry="30.88" transform="translate(322.14 600.18) rotate(37)" class="l" style="stroke-width:0.6;"/>
<ellipse rx="15.12" ry="25.2" transform="translate(322.62 600.04) rotate(37)" class="l" style="stroke-width:1.0;"/>
<ellipse rx="14.04" ry="23.4" transform="translate(321.98 599.56) rotate(37)" class="l" style="stroke-width:0.7;"/>
<ellipse rx="11.76" ry="19.6" transform="translate(320.62 599.04) rotate(37)" class="l" style="stroke-width:0.9;"/>
<path d="M321.85 610.23L323.55 608.97L325.19 607.5L326.72 605.87L328.13 604.09L329.38 602.21L330.45 600.26L331.32 598.28L331.97 596.31L332.4 594.37L332.59 592.52L332.54 590.78L332.25 589.19L331.73 587.78L330.98 586.57L330.02 585.59L328.87 584.86L327.56 584.39L326.09 584.19L324.52 584.26L322.85 584.61L321.13 585.22L319.39 586.09L317.66 587.19L315.97 588.51" class="l" style="stroke-width:0.9;"/>
<path d="M309.85 600.06L309.35 601.98L309.1 603.83L309.11 605.56L309.38 607.14L309.91 608.52L310.68 609.67L311.67 610.57L312.86 611.19L314.23 611.53L315.74 611.57L317.35 611.32L319.04 610.77L320.75 609.94L322.45 608.86L324.1 607.54L325.67 606.01L327.11 604.32L328.39 602.5L329.48 600.59L330.36 598.65L331 596.7L331.4 594.81L331.53 593L331.41 591.33" class="l" style="stroke-width:0.7;"/>
<ellipse rx="5.16" ry="8.6" transform="translate(318.7 598.1) rotate(37)" class="lw" style="stroke-width:1.1;stroke:#000;"/>
<ellipse rx="1.25" ry="2.3" transform="translate(341.92 580.34) rotate(293)" class="lw" style="stroke-width:1.05;stroke:#000"/>
<ellipse rx="1.25" ry="2.3" transform="translate(343.88 589.54) rotate(266)" class="lw" style="stroke-width:1.05;stroke:#000"/>
<ellipse rx="1.25" ry="2.3" transform="translate(340.25 602.76) rotate(235)" class="lw" style="stroke-width:1.05;stroke:#000"/>
<ellipse rx="1.25" ry="2.3" transform="translate(302.56 599.42) rotate(420)" class="lw" style="stroke-width:1.05;stroke:#000"/>
<ellipse rx="1.25" ry="2.3" transform="translate(299.92 612.41) rotate(451)" class="lw" style="stroke-width:1.05;stroke:#000"/>
<ellipse rx="1.25" ry="2.3" transform="translate(303.56 621.85) rotate(482)" class="lw" style="stroke-width:1.05;stroke:#000"/>
<path d="M315.3 595.6L331 607" class="lt" style=""/>
<path d="M331 607L341 614.6" class="ld" style=""/>
<path d="M303 638.6L303.06 632.3" class="ld"/>
<path d="M303.1 628.9L304.16 632.31L301.97 632.29Z" fill="#111"/>
<path d="M339.52 640L340.87 640.07L342.22 640.01L342.9 641.08L343.7 642.09L345.11 641.73L346.47 641.26L347.46 642L348.56 642.65L349.91 641.9L351.19 641.06L352.4 641.41L353.7 641.65L354.89 640.56L355.97 639.41L357.32 639.35L358.72 639.16L359.64 637.82L360.45 636.47L361.81 635.99L363.2 635.39L363.78 633.91L364.24 632.45L365.52 631.61L366.78 630.64L366.98 629.14L367.06 627.69L368.14 626.55L369.17 625.29L368.97 623.89L368.66 622.58L369.46 621.22L370.18 619.78L369.59 618.6L368.92 617.53L369.37 616.07L369.73 614.56L368.8 613.69L367.82 612.94L367.89 611.5L367.84 610.04L366.65 609.55L365.44 609.19L365.12 607.89L364.68 606.6L363.33 606.53L361.98 606.59L361.3 605.52L360.5 604.51L359.09 604.87L357.73 605.34L356.74 604.6L355.64 603.95L354.29 604.7L353.01 605.54L351.8 605.19L350.5 604.95L349.31 606.04L348.23 607.19L346.88 607.25L345.48 607.44L344.56 608.78L343.75 610.13L342.39 610.61L341 611.21L340.42 612.69L339.96 614.15L338.68 614.99L337.42 615.96L337.22 617.46L337.14 618.91L336.06 620.05L335.03 621.31L335.23 622.71L335.54 624.02L334.74 625.38L334.02 626.82L334.61 628L335.28 629.07L334.83 630.53L334.47 632.04L335.4 632.91L336.38 633.66L336.31 635.1L336.36 636.56L337.55 637.05L338.76 637.41L339.08 638.71Z" class="k" style=""/>
<path d="M349.62 629.7L342.88 638.89M356.84 620.12L364.54 610.14M355.77 619.31L361.32 607.71M354.45 618.92L357.35 606.55M352.98 618.98L352.95 606.74M351.49 619.49L348.49 608.27M350.1 620.41L344.32 611.02M348.92 621.66L340.78 614.77M348.05 623.14L338.15 619.2M347.55 624.72L336.66 623.97M347.47 626.3L336.42 628.68M347.81 627.72L337.44 632.96M348.55 628.89L339.66 636.46" class="l" style="stroke:#fff;stroke-width:0.85;stroke-linecap:butt;"/>
<path d="M349.49 634.74L346.85 640.05M352.18 634.62L351.25 639.86M354.9 633.69L355.71 638.33M357.45 632.01L359.88 635.58M359.62 629.72L363.42 631.83M361.22 627.01L366.05 627.4M362.13 624.09L367.54 622.63M362.28 621.21L367.78 617.92M361.65 618.6L366.76 613.64" class="l" style="stroke:#999;stroke-width:0.45;stroke-linecap:butt;"/>
<path d="M351.3 626.6L355.4 620.8" class="l" style="stroke:#fff;stroke-width:1.1;"/>
<path d="M349.19 634.54L350.13 634.78L351.12 634.9L352.14 634.9L353.18 634.77L354.23 634.53L355.28 634.16L356.31 633.69L357.3 633.1L358.26 632.41L359.17 631.64L360.01 630.77L360.78 629.84L361.46 628.84L362.06 627.8L362.56 626.71L362.96 625.6L363.24 624.48L363.42 623.36L363.48 622.26L363.43 621.18L363.26 620.14L362.98 619.16L362.6 618.24L362.11 617.4" class="l" style="stroke:#777;stroke-width:0.5;"/>
<path d="M348.06 638.33L349.33 638.65L350.66 638.81L352.03 638.81L353.43 638.64L354.84 638.31L356.25 637.82L357.63 637.18L358.97 636.39L360.26 635.47L361.48 634.42L362.61 633.26L363.65 632L364.57 630.66L365.37 629.25L366.05 627.79L366.58 626.3L366.96 624.79L367.2 623.28L367.28 621.8L367.21 620.35L366.99 618.96L366.62 617.64L366.1 616.4L365.44 615.27" class="l" style="stroke:#666;stroke-width:0.5;"/>
<path d="M338.6 661.7L338.77 645.2" class="ld"/>
<path d="M338.8 641.8L339.87 645.21L337.67 645.19Z" fill="#111"/>
<path d="M386.5 545.4L386.4 553.4" class="ld" style=""/>
<path d="M384.9 600.4L384.7 608.4" class="ld" style=""/>
<path d="M395.86 532.03L396.32 532.74L396.68 533.48L396.93 534.24L397.07 535.02L397.1 535.8L397.01 536.58L396.82 537.35L396.51 538.1L396.1 538.82L395.59 539.51L394.98 540.16L394.28 540.76L393.5 541.31L392.64 541.79L391.72 542.21L390.74 542.56L389.72 542.84L388.67 543.04L387.59 543.16L386.5 543.2L385.41 543.16L384.33 543.04L383.28 542.84L382.26 542.56L381.28 542.21L380.36 541.79L379.5 541.31L378.72 540.76L378.02 540.16L377.41 539.51L376.9 538.82L376.49 538.1L376.18 537.35L375.99 536.58L375.9 535.8L375.93 535.02L376.07 534.24L376.32 533.48L376.68 532.74L377.14 532.03Z" class="k" style=""/>
<circle cx="396.86" cy="533.31" r="2.0" fill="#111"/>
<circle cx="397.4" cy="536.01" r="2.0" fill="#111"/>
<circle cx="396.66" cy="538.69" r="2.0" fill="#111"/>
<circle cx="394.75" cy="541.03" r="2.0" fill="#111"/>
<circle cx="391.87" cy="542.76" r="2.0" fill="#111"/>
<circle cx="388.36" cy="543.68" r="2.0" fill="#111"/>
<circle cx="384.64" cy="543.68" r="2.0" fill="#111"/>
<circle cx="381.13" cy="542.76" r="2.0" fill="#111"/>
<circle cx="378.25" cy="541.03" r="2.0" fill="#111"/>
<circle cx="376.34" cy="538.69" r="2.0" fill="#111"/>
<circle cx="375.6" cy="536.01" r="2.0" fill="#111"/>
<circle cx="376.14" cy="533.31" r="2.0" fill="#111"/>
<ellipse cx="396.29" cy="533.45" rx="0.75" ry="1.25" fill="#fff" transform="rotate(-108.17 396.29 533.45)"/>
<ellipse cx="396.8" cy="535.78" rx="0.75" ry="1.25" fill="#fff" transform="rotate(-88.5 396.8 535.78)"/>
<ellipse cx="396.11" cy="538.09" rx="0.75" ry="1.25" fill="#fff" transform="rotate(-68.83 396.11 538.09)"/>
<ellipse cx="394.29" cy="540.11" rx="0.75" ry="1.25" fill="#fff" transform="rotate(-49.17 394.29 540.11)"/>
<ellipse cx="391.57" cy="541.61" rx="0.75" ry="1.25" fill="#fff" transform="rotate(-29.5 391.57 541.61)"/>
<ellipse cx="388.26" cy="542.4" rx="0.75" ry="1.25" fill="#fff" transform="rotate(-9.83 388.26 542.4)"/>
<ellipse cx="384.74" cy="542.4" rx="0.75" ry="1.25" fill="#fff" transform="rotate(9.83 384.74 542.4)"/>
<ellipse cx="381.43" cy="541.61" rx="0.75" ry="1.25" fill="#fff" transform="rotate(29.5 381.43 541.61)"/>
<ellipse cx="378.71" cy="540.11" rx="0.75" ry="1.25" fill="#fff" transform="rotate(49.17 378.71 540.11)"/>
<ellipse cx="376.89" cy="538.09" rx="0.75" ry="1.25" fill="#fff" transform="rotate(68.83 376.89 538.09)"/>
<ellipse cx="376.2" cy="535.78" rx="0.75" ry="1.25" fill="#fff" transform="rotate(88.5 376.2 535.78)"/>
<ellipse cx="376.71" cy="533.45" rx="0.75" ry="1.25" fill="#fff" transform="rotate(108.17 376.71 533.45)"/>
<ellipse cx="386.5" cy="533" rx="9.2" ry="5.4" fill="#fff" stroke="#000" stroke-width="1.2"/>
<ellipse cx="386.5" cy="533" rx="4.9" ry="2.8" fill="#fff" stroke="#000" stroke-width="1.3"/>
<ellipse cx="386.5" cy="533" rx="7.2" ry="4.2" class="lt"/>
<path d="M408.4 535.3L401.8 535.3" class="ld"/>
<path d="M399.2 535.3L401.8 534.2L401.8 536.4Z" fill="#111"/>
<path d="M381.3 556L381.1 597Q381.3 600.4 385.6 600.4Q390 600.4 390.4 597L390.6 556" class="lw" style="stroke-width:1.05;"/>
<ellipse cx="386" cy="556" rx="4.65" ry="2.7" fill="#fff" stroke="#000" stroke-width="1.2"/>
<ellipse cx="386" cy="556.2" rx="2.9" ry="1.5" fill="#222"/>
<path d="M384.2 556.9L387.6 555.4" class="l" style="stroke-width:0.6;stroke:#ddd;"/>
<path d="M406.6 574.4L394.2 574.4" class="ld"/>
<path d="M391.2 574.4L394.2 573.3L394.2 575.5Z" fill="#111"/>
<path d="M397.52 617.15L396.81 618.19L395.95 619.11L396.1 620.2L396.04 621.35L394.72 622.04L393.35 622.57L392.76 623.59L391.94 624.58L390.32 624.76L388.74 624.79L387.54 625.5L386.16 626.11L384.6 625.75L383.19 625.26L381.66 625.5L380.02 625.59L378.88 624.76L377.96 623.87L376.44 623.59L374.93 623.14L374.48 622.04L374.25 620.95L373.1 620.2L372.06 619.31L372.39 618.19L372.92 617.15L372.6 616.02L372.68 614.79L374.12 613.82L375.63 613L376.3 611.81L377.13 610.6L378.66 610.11L380.04 609.8L380.88 608.83L381.76 607.92L382.84 608.02L383.78 608.29L384.6 607.75L385.51 607.35L386.36 608.02L387.17 608.8L388.32 608.83L389.64 609.03L390.54 610.11L391.36 611.23L392.9 611.81L394.51 612.56L395.08 613.82L395.39 615.01L396.6 616.02L397.52 617.15Z" class="k" style=""/>
<path d="M389.07 615.17L395.57 618.99M388.04 616.27L393.06 622.26M386.23 616.98L388.61 624.35M384.05 617.13L383.24 624.79M381.99 616.69L378.18 623.49M380.53 615.76L374.59 620.73M380 614.55L373.3 617.15M380.61 612.86L376.62 612.94M382.57 611.72L380.54 610M384.23 611.17L383.87 608.61M385.74 611.36L386.89 609.08M387.61 612.23L390.62 611.31M389.4 613.58L394.2 614.79" class="l" style="stroke:#fff;stroke-width:1.15;stroke-linecap:butt;"/>
<ellipse cx="384.6" cy="613.75" rx="3.7" ry="1.9" fill="#fff" stroke="#000" stroke-width="1.3"/>
<path d="M384.6 612.15L384.6 615.35" class="ld" style="stroke:#777;"/>
<path d="M407.2 612.3L398.1 612.3" class="ld"/>
<path d="M395.1 612.3L398.1 611.2L398.1 613.4Z" fill="#111"/>
<path d="M419.9 627.17L417.51 625.36A22.02 36.7 37 0 0 373.33 683.98L375.73 685.79" class="lw" style="stroke-width:1.15;stroke:#000"/>
<ellipse rx="22.02" ry="36.7" transform="translate(397.82 656.48) rotate(37)" class="lw" style="stroke-width:1.15;stroke:#000" style=""/>
<path d="M427.97 633.25L419.9 627.17A22.02 36.7 37 0 0 375.73 685.79L383.8 691.87" class="k"/>
<path d="M378.54 683.89L370.47 677.81M378.06 681.85L369.99 675.77M377.76 679.68L369.69 673.6M377.65 677.4L369.58 671.32M377.73 675.01L369.67 668.94M378 672.55L369.94 666.47M378.46 670.01L370.39 663.94M379.1 667.43L371.03 661.35M379.92 664.81L371.85 658.73M380.91 662.18L372.85 656.1M382.07 659.55L374.01 653.47M383.39 656.94L375.33 650.86M384.86 654.37L376.8 648.29M386.48 651.85L378.41 645.78M388.22 649.41L380.15 643.33M390.08 647.05L382.01 640.97M392.04 644.8L383.98 638.72M394.1 642.67L386.04 636.59M396.24 640.66L388.17 634.59M398.44 638.81L390.38 632.73M400.7 637.12L392.63 631.04M402.98 635.59L394.92 629.51M405.29 634.25L397.22 628.17M407.6 633.09L399.53 627.01M409.9 632.14L401.83 626.06M412.17 631.38L404.1 625.3M414.4 630.84L406.33 624.76M416.57 630.51L408.51 624.43M418.67 630.39L410.61 624.31M420.69 630.49L412.62 624.41M422.61 630.8L414.54 624.72M424.41 631.33L416.34 625.25" class="l" style="stroke:#fff;stroke-width:1.0;"/>
<path d="M425.41 631.32A22.02 36.7 37 0 0 381.24 689.94" class="l" style="stroke:#000;stroke-width:0.9;"/>
<path d="M422.7 629.27A22.02 36.7 37 0 0 378.53 687.89" class="l" style="stroke:#000;stroke-width:0.9;"/>
<path d="M429.89 634.69L427.97 633.25A22.02 36.7 37 0 0 383.8 691.87L385.71 693.31" class="lw"/>
<ellipse rx="22.02" ry="36.7" transform="translate(407.8 664) rotate(37)" class="lw" style=""/>
<ellipse rx="22.02" ry="36.7" transform="translate(407.8 664) rotate(37)" class="lw" style="stroke-width:1.25;stroke:#000;"/>
<ellipse rx="19.2" ry="32" transform="translate(407.72 663.94) rotate(37)" class="lw" style="stroke-width:1.3;stroke:#000;"/>
<path d="M383.89 684.69L385.74 686.87L388.02 688.51L390.69 689.58L393.68 690.05L396.94 689.91L400.39 689.17L403.96 687.84L407.56 685.95L411.12 683.54L414.56 680.67L417.81 677.39L420.79 673.79L423.43 669.93L425.68 665.91L427.5 661.81L428.83 657.72L429.66 653.74L429.95 649.94L429.71 646.42L428.95 643.25L427.67 640.5L425.91 638.23L423.7 636.49L421.1 635.32" class="l" style="stroke-width:0.9;"/>
<ellipse rx="1.3" ry="2.0" transform="translate(424.01 664.23) rotate(37)" class="lw" style="stroke-width:1.05;stroke:#000"/>
<ellipse rx="1.3" ry="2.0" transform="translate(427.18 651.36) rotate(37)" class="lw" style="stroke-width:1.05;stroke:#000"/>
<ellipse rx="1.3" ry="2.0" transform="translate(422.49 640.01) rotate(37)" class="lw" style="stroke-width:1.05;stroke:#000"/>
<ellipse rx="1.3" ry="2.0" transform="translate(415.91 637.84) rotate(37)" class="lw" style="stroke-width:1.05;stroke:#000"/>
<ellipse rx="1.3" ry="2.0" transform="translate(408.44 639.27) rotate(37)" class="lw" style="stroke-width:1.05;stroke:#000"/>
<ellipse rx="1.3" ry="2.0" transform="translate(400.97 643.49) rotate(37)" class="lw" style="stroke-width:1.05;stroke:#000"/>
<ellipse rx="1.3" ry="2.0" transform="translate(384.11 673.01) rotate(37)" class="lw" style="stroke-width:1.05;stroke:#000"/>
<ellipse rx="1.3" ry="2.0" transform="translate(387.48 683.56) rotate(37)" class="lw" style="stroke-width:1.05;stroke:#000"/>
<path d="M386.93 674.95L387.72 677.85L389.08 680.27L390.97 682.12L393.32 683.34L396.06 683.9L399.1 683.78L402.35 682.98L405.71 681.53L409.06 679.47L412.31 676.87L415.34 673.81L418.07 670.39L420.4 666.72L422.27 662.91L423.61 659.08L424.38 655.35L424.56 651.85L424.14 648.68L423.13 645.95L421.57 643.73L419.51 642.11L417 641.13L414.14 640.81L411.01 641.19" class="l" style="stroke-width:1.0;"/>
<path d="M419.07 658.1L419.61 656.21L420 654.36L420.23 652.56L420.3 650.83L420.22 649.18L419.98 647.63L419.58 646.19L419.03 644.87L418.33 643.69L417.5 642.66L416.53 641.78L415.44 641.07L414.23 640.52L412.92 640.15L411.51 639.96L410.03 639.95L408.48 640.11L406.88 640.46L405.24 640.98L403.58 641.67L401.91 642.53L400.24 643.54L398.6 644.7L396.99 646" class="l" style="stroke-width:0.9;"/>
<path d="M411.5 639.1Q415.6 639.4 418.6 642.6Q423.4 648 423.6 655Q423.2 663 418.8 668.6Q416.4 672.6 412.8 676.4L405 669.4L403.4 666.4Q404.6 663 405.4 661.6Q408.6 656 408.8 652.6Q410.8 648.6 411 645.6Z" class="lw" style="stroke-width:1.25;stroke:#000;"/>
<path d="M405.1 666.5L396.2 670.1L396 675.6L399.6 678.6L399.8 681.6L404.8 682.2L405.6 679.6L409.2 679.4L413.3 677.4L413.3 673.8Z" class="lw" style="stroke-width:1.15;stroke:#000;"/>
<path d="M397.8 670.4L398.6 677M399.6 669.8L400.6 678.6M401.4 669.2L402.4 679.6M403.2 668.4L404.2 680M405 667.6L406 679.4M406.8 668.6L407.8 679M408.6 670L409.4 678.6M410.4 671.6L411 677.8" class="l" style="stroke-width:0.6;"/>
<path d="M388.7 674.7Q390.6 673.4 393.2 673.8L397.8 681Q398.4 684 396.9 685.6Q394.4 686.4 392.3 684.7L388.9 678.6Q388 676.4 388.7 674.7Z" class="lw" style="stroke-width:1.15;stroke:#000;"/>
<path d="M390.6 675.8L395.4 683.6" class="lt" style=""/>
<path d="M400.5 647.3L432 668.6" class="lt" style=""/>
<path d="M393.2 654.6L422 677" class="lt" style=""/>
<path d="M388 701.3L387.72 699.18" class="ld"/>
<path d="M387.4 696.8L388.81 699.03L386.63 699.32Z" fill="#111"/>
<circle cx="427.31" cy="702.55" r="1.5" fill="#fff" stroke="#000" stroke-width="1"/>
<circle cx="451.86" cy="669.96" r="1.5" fill="#fff" stroke="#000" stroke-width="1"/>
<circle cx="449.16" cy="668.67" r="1.5" fill="#fff" stroke="#000" stroke-width="1"/>
<circle cx="445.91" cy="668.41" r="1.5" fill="#fff" stroke="#000" stroke-width="1"/>
<circle cx="442.29" cy="669.18" r="1.5" fill="#fff" stroke="#000" stroke-width="1"/>
<circle cx="438.51" cy="670.94" r="1.5" fill="#fff" stroke="#000" stroke-width="1"/>
<circle cx="434.8" cy="673.59" r="1.5" fill="#fff" stroke="#000" stroke-width="1"/>
<circle cx="431.36" cy="676.98" r="1.5" fill="#fff" stroke="#000" stroke-width="1"/>
<circle cx="428.4" cy="680.91" r="1.5" fill="#fff" stroke="#000" stroke-width="1"/>
<circle cx="426.09" cy="685.15" r="1.5" fill="#fff" stroke="#000" stroke-width="1"/>
<circle cx="424.56" cy="689.45" r="1.5" fill="#fff" stroke="#000" stroke-width="1"/>
<circle cx="423.91" cy="693.57" r="1.5" fill="#fff" stroke="#000" stroke-width="1"/>
<circle cx="424.17" cy="697.26" r="1.5" fill="#fff" stroke="#000" stroke-width="1"/>
<circle cx="425.32" cy="700.31" r="1.5" fill="#fff" stroke="#000" stroke-width="1"/>
<ellipse rx="12" ry="20" transform="translate(441.5 687.7) rotate(37)" class="lw" style="stroke-width:1.2;stroke:#000;"/>
<ellipse rx="5.28" ry="8.8" transform="translate(440.4 688.2) rotate(37)" class="k" style=""/>
<path d="M443.21 681.01L446.57 683.54M440.89 681.57L444.25 684.1M438.5 683.09L441.85 685.62M436.39 685.35L439.74 687.88M434.85 688.03L438.21 690.56M434.13 690.74L437.49 693.26" class="l" style="stroke:#ccc;stroke-width:0.6;"/>
<path d="M423.9 721.3L424.22 708.6" class="ld"/>
<path d="M424.3 705.2L425.32 708.63L423.12 708.57Z" fill="#111"/>
<path d="M486.88 682.38L485.2 681.12A19.32 32.2 37 0 0 446.44 732.55L448.12 733.82" class="lw" style="stroke-width:1.3;stroke:#000"/>
<ellipse rx="19.32" ry="32.2" transform="translate(467.5 708.1) rotate(37)" class="lw" style="stroke-width:1.3;stroke:#000" style=""/>
<ellipse rx="19.32" ry="32.2" transform="translate(467.5 708.1) rotate(37)" class="lw" style="stroke-width:1.2;stroke:#000;"/>
<ellipse rx="18.45" ry="30.75" transform="translate(467.82 708.34) rotate(37)" class="l" style="stroke-width:0.6;"/>
<ellipse rx="14.76" ry="24.6" transform="translate(469.64 709.28) rotate(37)" class="l" style="stroke-width:1.0;"/>
<ellipse rx="13.68" ry="22.8" transform="translate(470.6 710) rotate(37)" class="l" style="stroke-width:1.0;"/>
<path d="M457.59 709.11L456.57 711.62L455.83 714.12L455.38 716.54L455.24 718.85L455.4 721L455.86 722.95L456.61 724.67L457.65 726.11L458.94 727.25L460.47 728.08L462.2 728.57L464.11 728.71L466.15 728.51L468.28 727.96L470.48 727.08L472.69 725.88L474.87 724.39L476.98 722.64L478.98 720.65L480.84 718.47L482.51 716.14L483.97 713.7L485.18 711.2L486.13 708.68" class="l" style="stroke-width:0.7;"/>
<ellipse rx="1.4" ry="2.1" transform="translate(487.38 688.57) rotate(37)" class="lw" style="stroke-width:1.1;stroke:#000"/>
<ellipse rx="1.4" ry="2.1" transform="translate(489.28 698.51) rotate(37)" class="lw" style="stroke-width:1.1;stroke:#000"/>
<ellipse rx="1.4" ry="2.1" transform="translate(448.29 707.52) rotate(37)" class="lw" style="stroke-width:1.1;stroke:#000"/>
<ellipse rx="1.4" ry="2.1" transform="translate(445.72 721.17) rotate(37)" class="lw" style="stroke-width:1.1;stroke:#000"/>
<ellipse rx="1.4" ry="2.1" transform="translate(449.29 729.8) rotate(37)" class="lw" style="stroke-width:1.1;stroke:#000"/>
<path d="M479.76 715.64L480.55 714.37L481.23 713.06L481.79 711.74L482.22 710.43L482.51 709.14L482.66 707.89L482.67 706.71L482.54 705.61L482.26 704.62L481.85 703.73L481.31 702.97L480.64 702.36L479.87 701.89L478.99 701.57L478.02 701.42L476.99 701.43L475.9 701.61L474.76 701.94L473.61 702.43L472.45 703.07L471.3 703.84L470.19 704.74L469.12 705.75L468.12 706.86" class="l" style="stroke-width:0.9;stroke-dasharray:1.6 1.4;"/>
<ellipse rx="7.49" ry="9.6" transform="translate(473.3 712.1) rotate(37)" class="lw" style="stroke-width:1.9;stroke:#000;"/>
<ellipse rx="4.62" ry="6.6" transform="translate(473.3 712.1) rotate(37)" class="l" style="stroke-width:0.8;"/>
<path d="M468.4 714.6L478 709.2" class="l" style="stroke-width:0.8;"/>
<rect x="482.8" y="702.4" width="3.8" height="5.8" transform="rotate(12 484.7 705.3)" class="lw" style="stroke-width:0.9"/>
<rect x="483.8" y="703.5" width="1.8" height="3.6" transform="rotate(12 484.7 705.3)" class="lt"/>
<rect x="456.8" y="714.9" width="3.8" height="5.8" transform="rotate(12 458.7 717.8)" class="lw" style="stroke-width:0.9"/>
<rect x="457.8" y="716" width="1.8" height="3.6" transform="rotate(12 458.7 717.8)" class="lt"/>
<path d="M450.6 714L453.4 724M452 713.4L454.8 723.4M453.4 712.8L456 722.6" class="l" style="stroke:#888;stroke-width:0.6;"/>
<path d="M453.2 744.1L453.2 740.4" class="ld"/>
<path d="M453.2 737.8L454.3 740.4L452.1 740.4Z" fill="#111"/>
<g transform="translate(516.9 710.2) rotate(34.2)"><rect x="0" y="-2.0" width="10.8" height="4.0" rx="1" fill="#000"/><path d="M10.8 -1.7L23 -1.7M10.8 1.7L23 1.7" class="l" style="stroke-width:1.15;stroke:#000"/><path d="M23 -3.6L26.6 -3.6L26.6 3.6L23 3.6Q21.6 0 23 -3.6Z" class="lw" style="stroke-width:1"/><ellipse cx="26.6" cy="0" rx="2.3" ry="3.7" class="lw" style="stroke-width:1.1"/><path d="M23.2 -1.4L26 -1.4" class="lt"/></g>
<g transform="translate(519.6 719.9) rotate(34.2)"><rect x="0" y="-2.0" width="10.8" height="4.0" rx="1" fill="#000"/><path d="M10.8 -1.7L23 -1.7M10.8 1.7L23 1.7" class="l" style="stroke-width:1.15;stroke:#000"/><path d="M23 -3.6L26.6 -3.6L26.6 3.6L23 3.6Q21.6 0 23 -3.6Z" class="lw" style="stroke-width:1"/><ellipse cx="26.6" cy="0" rx="2.3" ry="3.7" class="lw" style="stroke-width:1.1"/><path d="M23.2 -1.4L26 -1.4" class="lt"/></g>
<g transform="translate(516.5 732.7) rotate(34.2)"><rect x="0" y="-2.0" width="10.8" height="4.0" rx="1" fill="#000"/><path d="M10.8 -1.7L23 -1.7M10.8 1.7L23 1.7" class="l" style="stroke-width:1.15;stroke:#000"/><path d="M23 -3.6L26.6 -3.6L26.6 3.6L23 3.6Q21.6 0 23 -3.6Z" class="lw" style="stroke-width:1"/><ellipse cx="26.6" cy="0" rx="2.3" ry="3.7" class="lw" style="stroke-width:1.1"/><path d="M23.2 -1.4L26 -1.4" class="lt"/></g>
<g transform="translate(479.7 729.2) rotate(34.2)"><rect x="0" y="-2.0" width="10.8" height="4.0" rx="1" fill="#000"/><path d="M10.8 -1.7L23 -1.7M10.8 1.7L23 1.7" class="l" style="stroke-width:1.15;stroke:#000"/><path d="M23 -3.6L26.6 -3.6L26.6 3.6L23 3.6Q21.6 0 23 -3.6Z" class="lw" style="stroke-width:1"/><ellipse cx="26.6" cy="0" rx="2.3" ry="3.7" class="lw" style="stroke-width:1.1"/><path d="M23.2 -1.4L26 -1.4" class="lt"/></g>
<g transform="translate(476.6 742) rotate(34.2)"><rect x="0" y="-2.0" width="10.8" height="4.0" rx="1" fill="#000"/><path d="M10.8 -1.7L23 -1.7M10.8 1.7L23 1.7" class="l" style="stroke-width:1.15;stroke:#000"/><path d="M23 -3.6L26.6 -3.6L26.6 3.6L23 3.6Q21.6 0 23 -3.6Z" class="lw" style="stroke-width:1"/><ellipse cx="26.6" cy="0" rx="2.3" ry="3.7" class="lw" style="stroke-width:1.1"/><path d="M23.2 -1.4L26 -1.4" class="lt"/></g>
<g transform="translate(479.3 751.8) rotate(34.2)"><rect x="0" y="-2.0" width="10.8" height="4.0" rx="1" fill="#000"/><path d="M10.8 -1.7L23 -1.7M10.8 1.7L23 1.7" class="l" style="stroke-width:1.15;stroke:#000"/><path d="M23 -3.6L26.6 -3.6L26.6 3.6L23 3.6Q21.6 0 23 -3.6Z" class="lw" style="stroke-width:1"/><ellipse cx="26.6" cy="0" rx="2.3" ry="3.7" class="lw" style="stroke-width:1.1"/><path d="M23.2 -1.4L26 -1.4" class="lt"/></g>
<path d="M519.3 696.6L519.3 705" class="ld"/>
<path d="M519.3 708L518.2 705L520.4 705Z" fill="#111"/>
<circle cx="432.0" cy="130.6" r="8.8" class="co"/>
<text x="431.4" y="135.6" class="ct" letter-spacing="-1.1">15</text>
<circle cx="519.1" cy="127.2" r="8.8" class="co"/>
<text x="519.1" y="132.2" class="ct">2</text>
<circle cx="432.3" cy="222.3" r="8.8" class="co"/>
<text x="432.3" y="227.3" class="ct">1</text>
<circle cx="462.2" cy="258.8" r="8.8" class="co"/>
<text x="461.6" y="263.8" class="ct" letter-spacing="-1.1">13</text>
<circle cx="517.2" cy="263.9" r="8.8" class="co"/>
<text x="516.7" y="268.9" class="ct" letter-spacing="-1.1">14</text>
<circle cx="434.4" cy="278.8" r="8.8" class="co"/>
<text x="433.8" y="283.8" class="ct" letter-spacing="-1.1">17</text>
<circle cx="434.1" cy="299.4" r="8.8" class="co"/>
<text x="433.6" y="304.4" class="ct" letter-spacing="-1.1">14</text>
<circle cx="518.3" cy="296.2" r="8.8" class="co"/>
<text x="518.3" y="301.2" class="ct">6</text>
<circle cx="517.2" cy="331.6" r="8.8" class="co"/>
<text x="516.7" y="336.6" class="ct" letter-spacing="-1.1">12</text>
<circle cx="462.2" cy="338.6" r="8.8" class="co"/>
<text x="461.6" y="343.6" class="ct" letter-spacing="-1.1">13</text>
<circle cx="246.9" cy="304.7" r="8.8" class="co"/>
<text x="246.3" y="309.7" class="ct" letter-spacing="-1.1">27</text>
<circle cx="264.1" cy="315.6" r="8.8" class="co"/>
<text x="263.6" y="320.6" class="ct" letter-spacing="-1.1">28</text>
<circle cx="280.0" cy="327.3" r="8.8" class="co"/>
<text x="280.0" y="332.3" class="ct">7</text>
<circle cx="301.1" cy="336.7" r="8.8" class="co"/>
<text x="301.1" y="341.7" class="ct">8</text>
<circle cx="321.1" cy="346.1" r="8.8" class="co"/>
<text x="321.1" y="351.1" class="ct">9</text>
<circle cx="353.2" cy="361.8" r="8.8" class="co"/>
<text x="352.6" y="366.8" class="ct" letter-spacing="-1.1">16</text>
<circle cx="393.1" cy="384.2" r="8.8" class="co"/>
<text x="393.1" y="389.2" class="ct">4</text>
<circle cx="423.9" cy="398.1" r="8.8" class="co"/>
<text x="423.9" y="403.1" class="ct">9</text>
<circle cx="464.5" cy="454.6" r="8.8" class="co"/>
<text x="464.5" y="459.6" class="ct">3</text>
<circle cx="506.4" cy="441.4" r="8.8" class="co"/>
<text x="505.8" y="446.4" class="ct" letter-spacing="-1.1">11</text>
<circle cx="530.2" cy="453.7" r="8.8" class="co"/>
<text x="529.7" y="458.7" class="ct" letter-spacing="-1.1">10</text>
<circle cx="555.8" cy="466.4" r="8.8" class="co"/>
<text x="555.8" y="471.4" class="ct">9</text>
<circle cx="587.8" cy="483.7" r="8.8" class="co"/>
<text x="587.8" y="488.7" class="ct">5</text>
<circle cx="621.1" cy="496.4" r="8.8" class="co"/>
<text x="620.6" y="501.4" class="ct" letter-spacing="-1.1">16</text>
<circle cx="662.5" cy="518.8" r="8.8" class="co"/>
<text x="662.5" y="523.8" class="ct">9</text>
<circle cx="685.6" cy="529.7" r="8.8" class="co"/>
<text x="685.6" y="534.7" class="ct">8</text>
<circle cx="707.2" cy="539.5" r="8.8" class="co"/>
<text x="707.2" y="544.5" class="ct">7</text>
<circle cx="727.8" cy="546.9" r="8.8" class="co"/>
<text x="727.2" y="551.9" class="ct" letter-spacing="-1.1">28</text>
<circle cx="752.3" cy="556.6" r="8.8" class="co"/>
<text x="751.8" y="561.6" class="ct" letter-spacing="-1.1">27</text>
<circle cx="286.0" cy="518.5" r="8.8" class="co"/>
<text x="285.4" y="523.5" class="ct" letter-spacing="-1.1">26</text>
<circle cx="309.5" cy="532.3" r="8.8" class="co"/>
<text x="308.9" y="537.3" class="ct" letter-spacing="-1.1">25</text>
<circle cx="417.2" cy="535.2" r="8.8" class="co"/>
<text x="416.6" y="540.2" class="ct" letter-spacing="-1.1">22</text>
<circle cx="415.4" cy="574.2" r="8.8" class="co"/>
<text x="414.8" y="579.2" class="ct" letter-spacing="-1.1">23</text>
<circle cx="416.0" cy="612.3" r="8.8" class="co"/>
<text x="415.4" y="617.3" class="ct" letter-spacing="-1.1">22</text>
<circle cx="303.0" cy="647.3" r="8.8" class="co"/>
<text x="302.4" y="652.3" class="ct" letter-spacing="-1.1">20</text>
<circle cx="338.6" cy="670.4" r="8.8" class="co"/>
<text x="338.1" y="675.4" class="ct" letter-spacing="-1.1">21</text>
<circle cx="388.0" cy="710.0" r="8.8" class="co"/>
<text x="387.4" y="715.0" class="ct" letter-spacing="-1.1">18</text>
<circle cx="423.9" cy="730.0" r="8.8" class="co"/>
<text x="423.3" y="735.0" class="ct" letter-spacing="-1.1">21</text>
<circle cx="453.2" cy="752.8" r="8.8" class="co"/>
<text x="452.6" y="757.8" class="ct" letter-spacing="-1.1">19</text>
<circle cx="519.3" cy="687.8" r="8.8" class="co"/>
<text x="518.8" y="692.8" class="ct" letter-spacing="-1.1">24</text>
</svg>
</body></html>
